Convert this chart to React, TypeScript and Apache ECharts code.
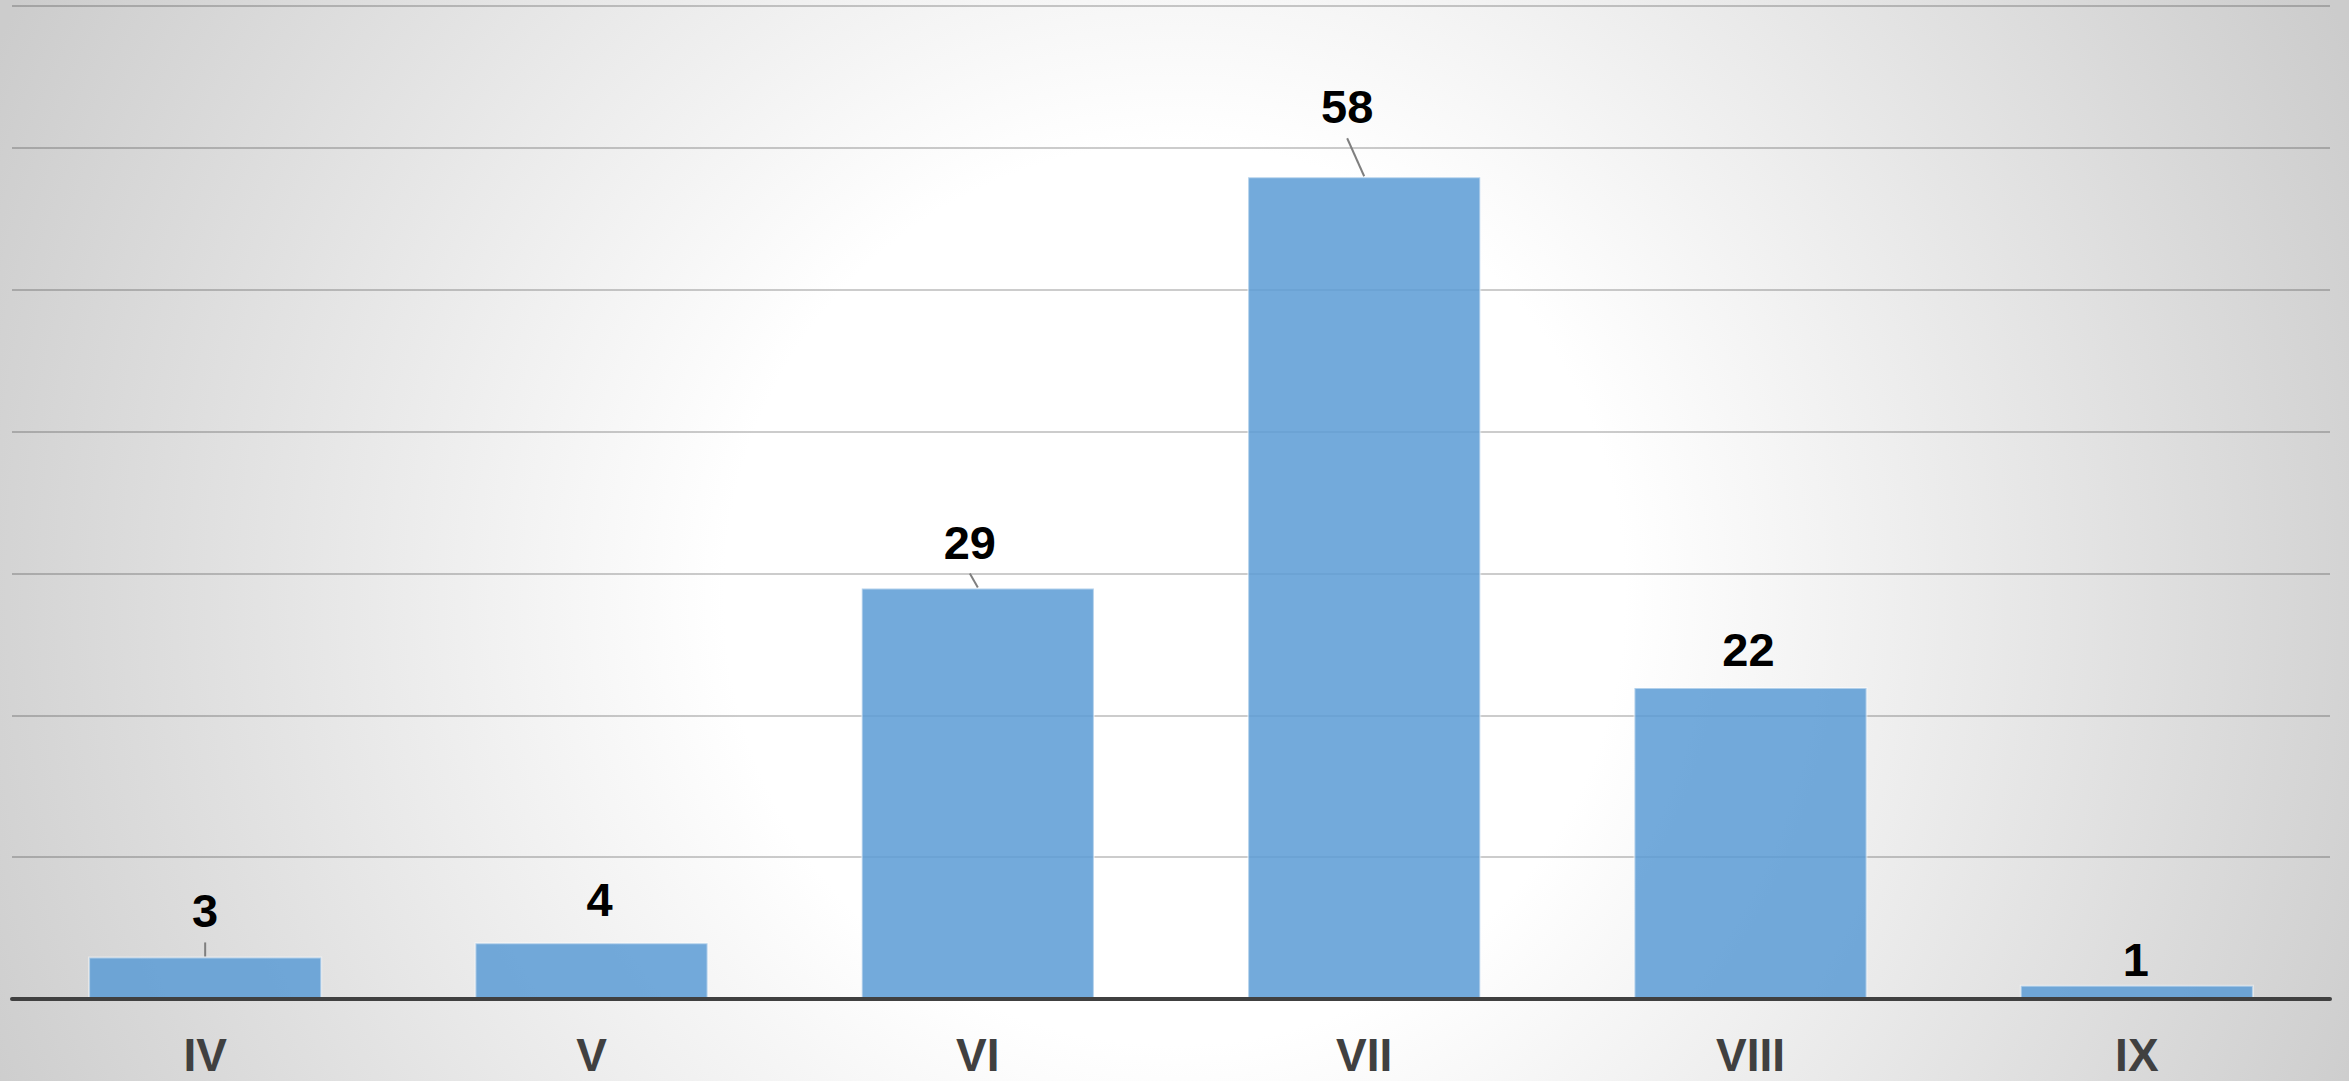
import React, { useEffect, useRef } from "react";
import * as echarts from "echarts";

const categories = ["IV", "V", "VI", "VII", "VIII", "IX"];
const values = [3, 4, 29, 58, 22, 1];
const yMax = 70;
const yInterval = 10;

// label nudges (px) and whether a leader line is drawn, per category
const labelDx = [0, 8, -8, -17, -2, -1];
const labelDy = [-2, 1, -2, -26, 6, 18];
const leader = [true, false, true, true, false, false];
const labelDistance = 20;

export default function App() {
  const ref = useRef<HTMLDivElement>(null);
  useEffect(() => {
    document.body.style.margin = "0";
    const chart = echarts.init(ref.current!, null, { renderer: "svg" });
    const leaderData = values
      .map((v, i) => [i, v])
      .filter((_, i) => leader[i]);
    chart.setOption({
      animation: false,
      backgroundColor: "transparent",
      grid: { left: 12, right: 19, top: 6, bottom: 82, containLabel: false },
      xAxis: {
        type: "category",
        data: categories,
        axisLine: { show: true, lineStyle: { color: "#404040", width: 4 } },
        axisTick: { show: false },
        axisLabel: {
          color: "#404040",
          fontFamily: "Liberation Sans, Arial, sans-serif",
          fontWeight: "bold",
          fontSize: 46,
          margin: 33,
        },
        z: 5,
      },
      yAxis: {
        type: "value",
        min: 0,
        max: yMax,
        interval: yInterval,
        axisLabel: { show: false },
        axisLine: { show: false },
        axisTick: { show: false },
        splitLine: { show: true, lineStyle: { color: "rgba(0,0,0,0.2)", width: 2 } },
      },
      series: [
        {
          type: "bar",
          barCategoryGap: "39.4%",
          data: values,
          itemStyle: {
            color: "rgba(91,155,213,0.85)",
            borderColor: "rgba(255,255,255,0.45)",
            borderWidth: 2,
          },
          label: {
            show: true,
            position: "top",
            distance: labelDistance,
            color: "#000000",
            fontFamily: "Liberation Sans, Arial, sans-serif",
            fontWeight: "bold",
            fontSize: 47,
          },
          labelLayout: (p: any) => ({
            dx: labelDx[p.dataIndex],
            dy: labelDy[p.dataIndex],
          }),
        },
        {
          type: "custom",
          silent: true,
          z: 3,
          data: leaderData,
          renderItem: (params: any, api: any) => {
            const i = api.value(0);
            const v = api.value(1);
            const [ex, ey] = api.coord([i, v]);
            const sx = ex + labelDx[i];
            const sy = ey - labelDistance + labelDy[i] + 8;
            return {
              type: "line",
              shape: { x1: sx, y1: sy, x2: ex, y2: ey },
              style: { stroke: "#7f7f7f", lineWidth: 2 },
            };
          },
        },
      ],
    });
    return () => chart.dispose();
  }, []);
  return (
    <div
      style={{
        width: 2349,
        height: 1081,
        background:
          "radial-gradient(circle 1300px at 50% 55%, #ffffff 0px, #ffffff 450px, #cccccc 1300px)",
      }}
    >
      <div ref={ref} style={{ width: 2349, height: 1081 }} />
    </div>
  );
}
